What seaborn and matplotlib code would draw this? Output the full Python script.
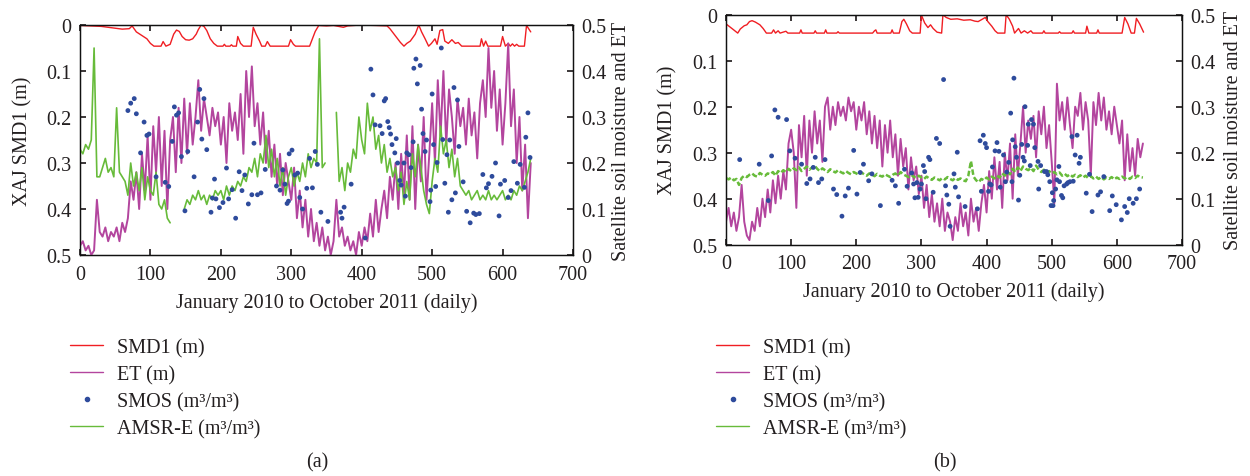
import numpy as np
import pandas as pd
import matplotlib
matplotlib.use("Agg")
import matplotlib.pyplot as plt
from matplotlib.lines import Line2D
from matplotlib.ticker import FuncFormatter
import seaborn as sns

# ---------------- data ----------------
day_step4 = np.arange(0, 641, 4)

# Panel (a)
et_a = [0.02, 0.03, 0.01, 0.02, 0.00, 0.01, 0.12, 0.05, 0.04, 0.06,
        0.03, 0.05, 0.04, 0.06, 0.03, 0.07, 0.05, 0.08, 0.16, 0.12,
        0.18, 0.10, 0.22, 0.14, 0.26, 0.12, 0.28, 0.18, 0.30, 0.15,
        0.27, 0.10, 0.25, 0.30, 0.18, 0.32, 0.20, 0.34, 0.22, 0.33,
        0.24, 0.30, 0.38, 0.27, 0.34, 0.30, 0.26, 0.32, 0.28, 0.31,
        0.24, 0.30, 0.20, 0.33, 0.27, 0.31, 0.25, 0.35, 0.22, 0.40,
        0.30, 0.41, 0.28, 0.33, 0.24, 0.31, 0.20, 0.27, 0.17, 0.24,
        0.15, 0.22, 0.13, 0.20, 0.16, 0.12, 0.19, 0.08, 0.14, 0.06,
        0.12, 0.04, 0.10, 0.03, 0.07, 0.02, 0.06, 0.01, 0.04, 0.00,
        0.03, 0.12, 0.04, 0.06, 0.02, 0.04, 0.01, 0.03, 0.00, 0.05,
        0.02, 0.06, 0.03, 0.09, 0.04, 0.12, 0.05, 0.10, 0.14, 0.08,
        0.17, 0.12, 0.20, 0.10, 0.22, 0.13, 0.26, 0.12, 0.28, 0.10,
        0.24, 0.16, 0.30, 0.12, 0.22, 0.33, 0.20, 0.38, 0.26, 0.40,
        0.24, 0.36, 0.30, 0.22, 0.34, 0.28, 0.32, 0.24, 0.34, 0.26,
        0.31, 0.21, 0.33, 0.38, 0.30, 0.45, 0.32, 0.40, 0.27, 0.36,
        0.24, 0.33, 0.46, 0.28, 0.36, 0.20, 0.30, 0.14, 0.24, 0.08,
        0.20]

amsr_a = [0.23, 0.22, 0.24, 0.23, 0.25, 0.45, 0.17, 0.17, 0.19, 0.21,
          0.18, 0.19, 0.17, 0.32, 0.18, 0.17, 0.16, 0.13, 0.20, 0.15,
          0.18, 0.14, 0.19, 0.12, 0.17, 0.14, 0.13, 0.18, 0.11, 0.10,
          0.12, 0.08, 0.07, np.nan, np.nan, np.nan, np.nan, 0.10, 0.12, 0.11,
          0.13, 0.12, 0.14, 0.12, 0.13, 0.11, 0.13, 0.12, 0.14, 0.13,
          0.14, 0.12, 0.15, 0.13, 0.15, 0.14, 0.16, 0.15, 0.17, 0.16,
          0.19, 0.18, 0.21, 0.17, 0.22, 0.20, 0.26, 0.19, 0.23, 0.17,
          0.21, 0.15, 0.19, 0.13, 0.17, 0.19, 0.15, 0.18, 0.16, 0.20,
          0.17, 0.22, 0.19, 0.21, 0.20, 0.47, 0.19, 0.20, np.nan, np.nan,
          np.nan, 0.31, 0.16, 0.19, 0.14, 0.20, 0.18, 0.23, 0.21, 0.30,
          0.25, 0.22, 0.33, 0.27, 0.30, 0.23, 0.26, 0.20, 0.24, 0.18,
          0.21, 0.17, 0.19, 0.14, 0.18, 0.11, 0.16, 0.12, 0.22, 0.17,
          0.24, 0.19, 0.14, 0.11, 0.09, 0.16, 0.21, 0.18, 0.28, 0.22,
          0.25, 0.19, 0.23, 0.17, 0.21, 0.15, 0.14, 0.13, 0.14, 0.12,
          0.13, 0.14, 0.12, 0.13, 0.12, 0.14, 0.12, 0.13, 0.12, 0.13,
          0.14, 0.12, 0.13, 0.12, 0.14, 0.13, 0.15, 0.14, 0.16, 0.18,
          0.21]

smos_a_day = [68, 72, 77, 80, 86, 91, 95, 98, 108, 121,
              126, 131, 134, 137, 140, 144, 149, 153, 162, 167,
              170, 173, 176, 180, 186, 188, 191, 193, 198, 203,
              208, 211, 216, 221, 226, 230, 234, 239, 244, 247,
              252, 257, 263, 279, 284, 288, 291, 294, 296, 297,
              301, 305, 309, 312, 316, 322, 326, 330, 334, 337,
              342, 352, 370, 372, 375, 385, 405, 413, 416, 419,
              426, 429, 432, 434, 437, 439, 441, 443, 447, 449,
              451, 454, 456, 460, 462, 464, 467, 470, 473, 474,
              477, 479, 483, 485, 487, 490, 492, 497, 498, 500,
              502, 505, 507, 513, 515, 518, 521, 523, 525, 528,
              531, 533, 536, 538, 544, 549, 554, 559, 562, 567,
              572, 577, 580, 585, 590, 595, 597, 603, 608, 612,
              616, 621, 625, 631, 633, 636, 639]
smos_a = [0.314, 0.330, 0.340, 0.307, 0.222, 0.289, 0.260, 0.263, 0.170, 0.158,
          0.149, 0.247, 0.322, 0.304, 0.309, 0.214, 0.096, 0.225, 0.170, 0.289,
          0.360, 0.252, 0.340, 0.229, 0.093, 0.124, 0.165, 0.122, 0.103, 0.114,
          0.189, 0.122, 0.142, 0.080, 0.181, 0.140, 0.174, 0.111, 0.131, 0.243,
          0.131, 0.135, 0.186, 0.150, 0.141, 0.185, 0.154, 0.112, 0.117, 0.220,
          0.228, 0.174, 0.178, 0.125, 0.100, 0.145, 0.210, 0.146, 0.225, 0.197,
          0.093, 0.073, 0.093, 0.080, 0.104, 0.154, 0.037, 0.404, 0.348, 0.283,
          0.281, 0.264, 0.335, 0.340, 0.290, 0.277, 0.263, 0.240, 0.222, 0.253,
          0.200, 0.162, 0.152, 0.200, 0.128, 0.222, 0.218, 0.190, 0.246, 0.406,
          0.426, 0.372, 0.412, 0.317, 0.264, 0.225, 0.250, 0.116, 0.141, 0.350,
          0.240, 0.149, 0.201, 0.450, 0.251, 0.156, 0.218, 0.093, 0.250, 0.120,
          0.364, 0.135, 0.337, 0.236, 0.159, 0.095, 0.070, 0.091, 0.088, 0.090,
          0.175, 0.146, 0.155, 0.171, 0.200, 0.085, 0.154, 0.162, 0.125, 0.140,
          0.203, 0.156, 0.197, 0.147, 0.256, 0.309, 0.212]

smd1_a_day = [0, 15, 30, 45, 60, 70, 74, 80, 90, 95,
              100, 105, 115, 118, 122, 128, 133, 137, 141, 145,
              150, 155, 160, 165, 168, 172, 176, 180, 185, 190,
              195, 203, 205, 207, 213, 215, 217, 222, 224, 228,
              232, 243, 246, 250, 255, 258, 263, 266, 270, 296,
              299, 303, 306, 326, 330, 334, 339, 350, 360, 374,
              380, 398, 420, 436, 440, 445, 450, 455, 460, 464,
              469, 476, 481, 485, 490, 495, 499, 504, 507, 511,
              515, 518, 523, 528, 533, 537, 542, 568, 570, 573,
              576, 579, 597, 600, 604, 608, 611, 614, 617, 620,
              623, 631, 634, 640]
smd1_a = [0.001, 0.002, 0.003, 0.006, 0.009, 0.008, 0.002, 0.015, 0.025, 0.030,
          0.040, 0.046, 0.046, 0.036, 0.046, 0.042, 0.020, 0.011, 0.014, 0.025,
          0.032, 0.033, 0.030, 0.020, 0.010, 0.000, 0.003, 0.012, 0.030, 0.040,
          0.046, 0.046, 0.042, 0.046, 0.046, 0.043, 0.046, 0.046, 0.025, 0.040,
          0.046, 0.046, 0.005, 0.020, 0.035, 0.046, 0.046, 0.036, 0.046, 0.046,
          0.032, 0.042, 0.046, 0.046, 0.030, 0.014, 0.001, 0.002, 0.001, 0.005,
          0.002, 0.000, 0.001, 0.002, 0.008, 0.018, 0.028, 0.038, 0.046, 0.040,
          0.035, 0.020, 0.000, 0.015, 0.030, 0.046, 0.040, 0.030, 0.042, 0.012,
          0.010, 0.035, 0.040, 0.032, 0.040, 0.038, 0.046, 0.046, 0.030, 0.046,
          0.035, 0.046, 0.046, 0.025, 0.046, 0.040, 0.046, 0.041, 0.046, 0.042,
          0.046, 0.046, 0.001, 0.015]

# Panel (b)
et_b = [0.05, 0.08, 0.04, 0.07, 0.03, 0.06, 0.13, 0.05, 0.02, 0.01,
        0.05, 0.03, 0.08, 0.04, 0.10, 0.06, 0.12, 0.07, 0.14, 0.09,
        0.15, 0.10, 0.16, 0.12, 0.22, 0.25, 0.20, 0.08, 0.26, 0.19,
        0.28, 0.15, 0.27, 0.20, 0.29, 0.22, 0.27, 0.18, 0.30, 0.32,
        0.25, 0.30, 0.26, 0.31, 0.28, 0.30, 0.27, 0.32, 0.29, 0.31,
        0.25, 0.30, 0.27, 0.31, 0.24, 0.29, 0.22, 0.28, 0.21, 0.27,
        0.17, 0.26, 0.20, 0.27, 0.19, 0.24, 0.15, 0.23, 0.17, 0.21,
        0.12, 0.19, 0.14, 0.17, 0.11, 0.15, 0.08, 0.13, 0.06, 0.11,
        0.05, 0.09, 0.04, 0.10, 0.03, 0.07, 0.05, 0.01, 0.06, 0.03,
        0.09, 0.04, 0.07, 0.02, 0.10, 0.05, 0.08, 0.03, 0.09, 0.13,
        0.07, 0.16, 0.10, 0.19, 0.12, 0.18, 0.08, 0.20, 0.14, 0.22,
        0.10, 0.24, 0.15, 0.22, 0.30, 0.20, 0.27, 0.23, 0.28, 0.19,
        0.29, 0.24, 0.30, 0.21, 0.26, 0.18, 0.09, 0.35, 0.27, 0.31,
        0.25, 0.32, 0.26, 0.21, 0.30, 0.28, 0.33, 0.25, 0.31, 0.27,
        0.15, 0.31, 0.26, 0.33, 0.27, 0.32, 0.25, 0.29, 0.24, 0.30,
        0.26, 0.22, 0.27, 0.14, 0.24, 0.16, 0.21, 0.15, 0.23, 0.19,
        0.22]

amsr_b = [0.145, 0.142, 0.146, 0.140, 0.143, 0.130, 0.145, 0.150, 0.147, 0.152,
          0.155, 0.150, 0.148, 0.156, 0.152, 0.150, 0.155, 0.153, 0.158, 0.150,
          0.160, 0.156, 0.162, 0.158, 0.165, 0.160, 0.166, 0.162, 0.168, 0.160,
          0.165, 0.170, 0.163, 0.168, 0.172, 0.165, 0.160, 0.166, 0.162, 0.158,
          0.164, 0.160, 0.157, 0.162, 0.158, 0.155, 0.160, 0.156, 0.153, 0.158,
          0.155, 0.152, 0.157, 0.153, 0.150, 0.155, 0.152, 0.149, 0.154, 0.150,
          0.148, 0.153, 0.150, 0.147, 0.152, 0.155, 0.150, 0.158, 0.153, 0.150,
          0.147, 0.152, 0.148, 0.145, 0.150, 0.146, 0.143, 0.148, 0.144, 0.141,
          0.146, 0.143, 0.140, 0.145, 0.142, 0.147, 0.143, 0.140, 0.145, 0.141,
          0.144, 0.140, 0.138, 0.150, 0.182, 0.148, 0.140, 0.136, 0.143, 0.140,
          0.146, 0.142, 0.148, 0.144, 0.150, 0.146, 0.155, 0.150, 0.158, 0.153,
          0.165, 0.158, 0.168, 0.160, 0.170, 0.165, 0.162, 0.167, 0.160, 0.172,
          0.163, 0.158, 0.163, 0.157, 0.160, 0.155, 0.158, 0.153, 0.157, 0.150,
          0.154, 0.149, 0.153, 0.148, 0.152, 0.147, 0.151, 0.146, 0.150, 0.145,
          0.149, 0.144, 0.148, 0.143, 0.147, 0.142, 0.146, 0.143, 0.147, 0.142,
          0.146, 0.143, 0.148, 0.144, 0.147, 0.143, 0.148, 0.145, 0.150, 0.147,
          0.146]

smos_b_day = [21, 51, 65, 70, 75, 80, 93, 98, 106, 116,
              124, 129, 134, 137, 142, 147, 152, 165, 170, 178,
              183, 188, 196, 201, 206, 211, 219, 224, 237, 255,
              260, 265, 274, 278, 285, 288, 290, 293, 295, 298,
              300, 303, 305, 307, 311, 313, 318, 323, 328, 334,
              337, 339, 342, 344, 350, 352, 355, 357, 367, 386,
              390, 392, 395, 398, 400, 403, 405, 407, 409, 413,
              416, 419, 421, 426, 429, 431, 434, 437, 439, 440,
              442, 444, 446, 449, 451, 454, 456, 458, 459, 463,
              464, 467, 469, 472, 474, 479, 480, 483, 489, 492,
              494, 497, 499, 501, 502, 503, 506, 508, 511, 512,
              515, 517, 519, 523, 525, 528, 531, 533, 536, 539,
              542, 544, 553, 558, 562, 571, 575, 580, 589, 593,
              599, 607, 612, 616, 619, 625, 630, 635]
smos_b = [0.185, 0.175, 0.096, 0.193, 0.293, 0.277, 0.272, 0.204, 0.188, 0.175,
          0.133, 0.143, 0.168, 0.190, 0.135, 0.143, 0.185, 0.121, 0.109, 0.062,
          0.106, 0.123, 0.205, 0.110, 0.157, 0.175, 0.139, 0.154, 0.085, 0.140,
          0.128, 0.090, 0.164, 0.127, 0.156, 0.132, 0.102, 0.135, 0.103, 0.121,
          0.132, 0.172, 0.159, 0.100, 0.190, 0.185, 0.114, 0.231, 0.220, 0.359,
          0.128, 0.108, 0.088, 0.040, 0.154, 0.125, 0.201, 0.104, 0.083, 0.078,
          0.226, 0.116, 0.238, 0.220, 0.211, 0.116, 0.132, 0.130, 0.169, 0.204,
          0.222, 0.203, 0.125, 0.195, 0.137, 0.158, 0.179, 0.286, 0.137, 0.228,
          0.362, 0.213, 0.190, 0.097, 0.151, 0.218, 0.190, 0.182, 0.300, 0.216,
          0.262, 0.172, 0.272, 0.262, 0.211, 0.181, 0.121, 0.172, 0.159, 0.159,
          0.152, 0.137, 0.085, 0.113, 0.085, 0.096, 0.121, 0.141, 0.170, 0.137,
          0.107, 0.102, 0.128, 0.132, 0.135, 0.137, 0.235, 0.138, 0.195, 0.238,
          0.177, 0.190, 0.112, 0.153, 0.072, 0.108, 0.115, 0.148, 0.074, 0.106,
          0.087, 0.054, 0.083, 0.070, 0.100, 0.090, 0.100, 0.121]

smd1_b_day = [0, 10, 18, 22, 28, 32, 36, 40, 45, 52,
              57, 62, 70, 73, 76, 80, 83, 92, 95, 113,
              115, 117, 135, 137, 139, 151, 153, 155, 170, 172,
              174, 225, 228, 230, 232, 253, 255, 257, 266, 270,
              273, 277, 282, 286, 298, 300, 305, 310, 314, 318,
              324, 331, 333, 338, 345, 355, 365, 375, 382, 387,
              392, 398, 402, 408, 413, 417, 428, 430, 435, 440,
              443, 449, 453, 458, 463, 468, 471, 486, 488, 490,
              510, 512, 514, 531, 533, 535, 552, 554, 557, 569,
              571, 573, 608, 612, 617, 622, 627, 630, 635, 641]
smd1_b = [0.020, 0.031, 0.040, 0.031, 0.024, 0.022, 0.015, 0.013, 0.016, 0.022,
          0.030, 0.040, 0.040, 0.033, 0.040, 0.035, 0.040, 0.036, 0.040, 0.040,
          0.033, 0.040, 0.040, 0.035, 0.040, 0.040, 0.033, 0.040, 0.040, 0.037,
          0.040, 0.040, 0.035, 0.033, 0.040, 0.040, 0.033, 0.040, 0.040, 0.015,
          0.010, 0.020, 0.035, 0.040, 0.040, 0.001, 0.018, 0.028, 0.022, 0.030,
          0.038, 0.040, 0.000, 0.006, 0.010, 0.009, 0.012, 0.011, 0.014, 0.015,
          0.011, 0.006, 0.015, 0.025, 0.035, 0.040, 0.040, 0.000, 0.010, 0.025,
          0.040, 0.030, 0.040, 0.035, 0.040, 0.035, 0.040, 0.040, 0.035, 0.040,
          0.040, 0.037, 0.040, 0.040, 0.035, 0.040, 0.040, 0.025, 0.040, 0.040,
          0.033, 0.040, 0.040, 0.006, 0.020, 0.040, 0.040, 0.008, 0.020, 0.038]

legend_labels = ["SMD1 (m)", "ET (m)", "SMOS (m³/m³)", "AMSR-E (m³/m³)"]
x_ticks = [0, 100, 200, 300, 400, 500, 600, 700]
y_ticks = [0, 0.1, 0.2, 0.3, 0.4, 0.5]

# ---------------- style ----------------
sns.set_theme(style="white")
plt.rcParams['font.family'] = ['Liberation Serif', 'DejaVu Serif']
TXT = "#231f20"
plt.rcParams.update({
    "text.color": TXT, "axes.labelcolor": TXT,
    "xtick.color": TXT, "ytick.color": TXT,
    "axes.edgecolor": "#111111", "axes.linewidth": 0.9,
})
FS = 14.5
C_SMD = "#f01e23"
C_ET = "#b3459e"
C_SMOS = "#2e4b9c"
C_AMSR = "#67bb3a"

fmt = FuncFormatter(lambda v, p: f"{v:g}")


def segments(days, vals):
    seg, s, prev_nan = [], 0, False
    for v in vals:
        if np.isnan(v):
            prev_nan = True
            seg.append(s)
        else:
            if prev_nan:
                s += 1
                prev_nan = False
            seg.append(s)
    return pd.DataFrame({"day": days, "val": vals, "seg": seg}).dropna()


def panel(rect, smd_d, smd_v, et_v, smos_d, smos_v, amsr_v, amsr_dashed,
          lpad_left, lpad_right):
    ax = fig.add_axes(rect)
    ax2 = ax.twinx()
    # SMD1 on left axis (inverted)
    sns.lineplot(x=smd_d, y=smd_v, ax=ax, color=C_SMD, linewidth=1.0,
                 estimator=None, sort=False)
    # Right axis series
    sns.lineplot(x=day_step4, y=et_v, ax=ax2, color=C_ET, linewidth=1.4,
                 estimator=None, sort=False)
    sns.scatterplot(x=smos_d, y=smos_v, ax=ax2, color=C_SMOS, s=12,
                    edgecolor="none", zorder=4)
    df = segments(day_step4, amsr_v)
    kw = dict(linestyle=(0, (2.2, 1.0))) if amsr_dashed else {}
    sns.lineplot(data=df, x="day", y="val", units="seg", estimator=None,
                 ax=ax2, color=C_AMSR, linewidth=1.2 if not amsr_dashed else 1.8,
                 sort=False, **kw)

    ax.set_xlim(0, 700)
    ax.set_ylim(0.5, 0)
    ax2.set_ylim(0, 0.5)
    ax.set_xticks(x_ticks)
    ax.set_yticks(y_ticks)
    ax2.set_yticks(y_ticks)
    for a in (ax, ax2):
        a.yaxis.set_major_formatter(fmt)
        a.xaxis.set_major_formatter(fmt)
        a.grid(False)
    ax.tick_params(axis="x", which="both", direction="in", top=True, bottom=True,
                   length=4, labelsize=FS, pad=7)
    ax.tick_params(axis="y", direction="in", left=True, right=False, length=4,
                   labelsize=FS, pad=6)
    ax2.tick_params(axis="y", direction="in", right=True, left=False, length=4,
                    labelsize=FS, pad=6)
    ax.set_xlabel("January 2010 to October 2011 (daily)", fontsize=FS, labelpad=6)
    ax.set_ylabel("XAJ SMD1 (m)", fontsize=FS, labelpad=lpad_left)
    ax2.set_ylabel("Satellite soil moisture and ET", fontsize=FS,
                   labelpad=lpad_right)
    for sp in list(ax.spines.values()) + list(ax2.spines.values()):
        sp.set_color("#111111")
        sp.set_linewidth(0.9)
    return ax, ax2


fig = plt.figure(figsize=(12.5, 4.77), dpi=100)

panel([0.064, 0.4633, 0.3944, 0.4822], smd1_a_day, smd1_a, et_a,
      smos_a_day, smos_a, amsr_a, False, 10, 4)
panel([0.5808, 0.4849, 0.3648, 0.4822], smd1_b_day, smd1_b, et_b,
      smos_b_day, smos_b, amsr_b, True, 11, 6)

handles = [Line2D([], [], color=C_SMD, lw=1.0),
           Line2D([], [], color=C_ET, lw=1.0),
           Line2D([], [], color=C_SMOS, lw=0, marker="o", markersize=3),
           Line2D([], [], color=C_AMSR, lw=1.0)]
for x0 in (0.056, 0.5728):
    fig.legend(handles, legend_labels, loc="upper left",
               bbox_to_anchor=(x0, 0.2895), frameon=False, fontsize=FS,
               handlelength=1.65, handletextpad=0.7, labelspacing=0.385,
               borderpad=0, borderaxespad=0)

fig.text(317 / 1250, 1 - 463 / 477, "(a)", ha="center", va="center", fontsize=FS)
fig.text(945 / 1250, 1 - 463 / 477, "(b)", ha="center", va="center", fontsize=FS)

fig.savefig("out.png", dpi=100)
